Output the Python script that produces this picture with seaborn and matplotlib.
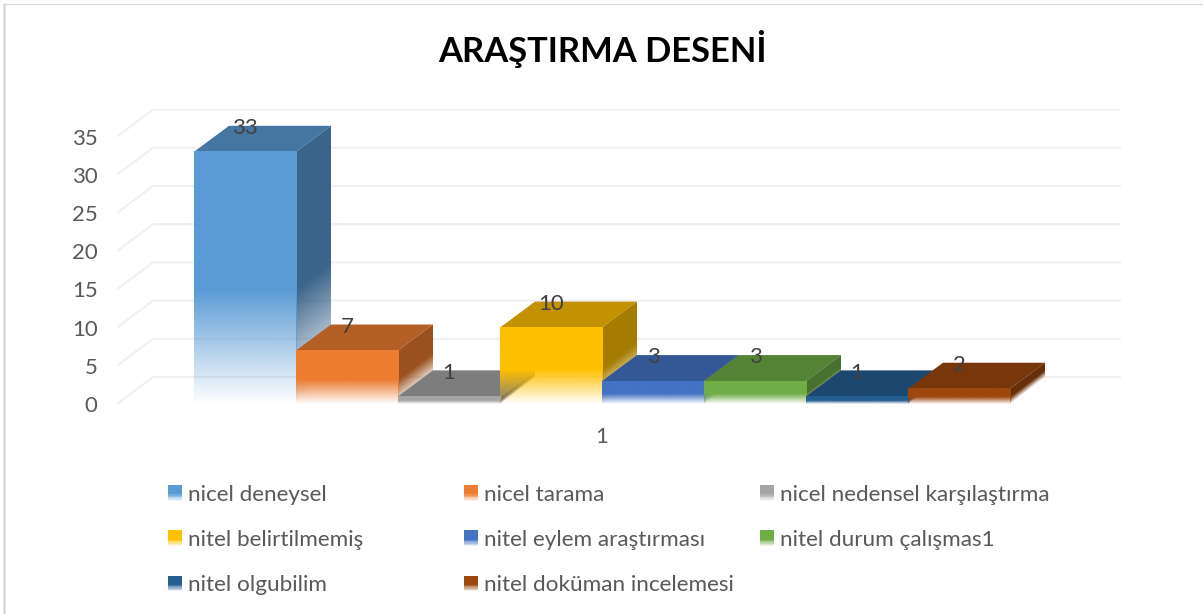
import numpy as np
import pandas as pd
import matplotlib
matplotlib.use('Agg')
import matplotlib.pyplot as plt
from matplotlib.legend_handler import HandlerBase
from matplotlib.patches import Patch, Polygon, Rectangle
import seaborn as sns

categories = ['nicel deneysel', 'nicel tarama', 'nicel nedensel karşılaştırma',
              'nitel belirtilmemiş', 'nitel eylem araştırması', 'nitel durum çalışmas1',
              'nitel olgubilim', 'nitel doküman incelemesi']
counts = [33, 7, 1, 10, 3, 3, 1, 2]
colors = ['#5B9BD5', '#ED7D31', '#A5A5A5', '#FFC000', '#4472C4', '#70AD47', '#255E91', '#9E480E']
y_ticks = [0, 5, 10, 15, 20, 25, 30, 35]
x_tick_label = '1'
title = 'ARAŞTIRMA DESENİ'

FADE = 0.45


def shade(color, k):
    return tuple(c * k for c in matplotlib.colors.to_rgb(color))


class FadeHandler(HandlerBase):
    # legend swatch that fades out to the bottom like the bars
    def create_artists(self, legend, orig_handle, xdescent, ydescent, width, height, fontsize, trans):
        out = []
        n = 12
        for i in range(n):
            a = min(1, (i + 0.5) / (n * 0.45))
            out.append(Rectangle((-xdescent, -ydescent + height * i / n), width, height / n,
                                 facecolor=orig_handle.get_facecolor(), alpha=a, lw=0, transform=trans))
        return out


sns.set_theme(style='white')
plt.rcParams['font.family'] = ['Lato', 'DejaVu Sans']

df = pd.DataFrame({'desen': categories, 'n': counts})

fig = plt.figure(figsize=(12.03, 6.14), dpi=100)
ax = fig.add_axes([117 / 1203, 1 - 404 / 614, 1004 / 1203, 295 / 614])

sns.barplot(data=df, x='desen', y='n', hue='desen', palette=colors, saturation=1,
            width=1, dodge=False, legend=False, ax=ax)

xlim = (-1.255, 8.588)
ylim = (0, 38.6)
bar_dx, bar_dy = 0.343, 3.4
grid_dx, grid_dy = 0.353, 3.53

for t in y_ticks:
    ax.plot([xlim[0], xlim[0] + grid_dx, xlim[1]], [t, t + grid_dy, t + grid_dy],
            color='#F0F0F0', lw=1.5, zorder=1, solid_capstyle='butt')

for i, p in enumerate(ax.patches):
    color = colors[i]
    x0, w, h = p.get_x(), p.get_width(), p.get_height()
    x1 = x0 + w
    z = 2 + i

    # front
    p.set_facecolor('none')
    p.set_edgecolor('none')
    rgb = matplotlib.colors.to_rgb(color)
    ys = np.linspace(0, 1, 300).reshape(-1, 1)
    front = np.ones((300, 1, 4))
    front[..., :3] = rgb
    front[..., 3] = np.clip(ys / FADE, 0, 1)
    ax.imshow(front, extent=(x0, x1, 0, h), origin='lower', aspect='auto', zorder=z + 0.2, interpolation='bilinear')

    # side, the fade runs along the depth slant
    xx, yy = np.meshgrid(np.linspace(0, bar_dx, 60), np.linspace(0, h + bar_dy, 400))
    side = np.ones((400, 60, 4))
    side[..., :3] = shade(color, 0.65)
    side[..., 3] = np.clip((yy - bar_dy * xx / bar_dx) / (FADE * h), 0, 1)
    im = ax.imshow(side, extent=(x1, x1 + bar_dx, 0, h + bar_dy), origin='lower', aspect='auto',
                   zorder=z + 0.1, interpolation='bilinear')
    im.set_clip_path(Polygon([(x1, 0), (x1 + bar_dx, bar_dy), (x1 + bar_dx, h + bar_dy), (x1, h)],
                             transform=ax.transData))

    # top
    ax.add_patch(Polygon([(x0, h), (x1, h), (x1 + bar_dx, h + bar_dy), (x0 + bar_dx, h + bar_dy)],
                         facecolor=shade(color, 0.76), edgecolor='none', zorder=z))

    ax.annotate(str(counts[i]), (x0 + w / 2, h), xytext=(0, 17), textcoords='offset points',
                ha='center', va='center', fontsize=16, color='#404040', zorder=30)

ax.set_xlim(xlim)
ax.set_ylim(ylim)
ax.set_yticks(y_ticks)
ax.set_xticks([3.5], [x_tick_label])
ax.tick_params(axis='y', length=0, pad=14, labelsize=16, labelcolor='#595959')
ax.tick_params(axis='x', length=0, pad=16.5, labelsize=16, labelcolor='#595959')
ax.set_xlabel('')
ax.set_ylabel('')
sns.despine(ax=ax, left=True, bottom=True)

fig.text(603 / 1203, 1 - 49.5 / 614, title, ha='center', va='center', fontsize=24.8, fontweight='bold', color='black')

# one legend per column so the columns sit on an even grid
col_x = [168, 464, 760]
for c in range(3):
    idx = list(range(c, len(categories), 3))
    handles = [Patch(facecolor=colors[j]) for j in idx]
    fig.legend(handles, [categories[j] for j in idx], loc='upper left',
               bbox_to_anchor=(col_x[c] / 1203, 1 - 485 / 614), frameon=False,
               borderpad=0, borderaxespad=0, labelspacing=1.12, fontsize=16.2,
               labelcolor='#595959', handlelength=0.62, handleheight=0.7, handletextpad=0.27,
               handler_map={Patch: FadeHandler()})

# chart frame
fig.add_artist(plt.Line2D([4 / 1203, 4 / 1203], [0, 1 - 4 / 614], color='#DADADA', lw=1.8))
fig.add_artist(plt.Line2D([3 / 1203, 1], [1 - 4 / 614, 1 - 4 / 614], color='#D9D9D9', lw=0.9))

fig.savefig('out.png', dpi=100)
